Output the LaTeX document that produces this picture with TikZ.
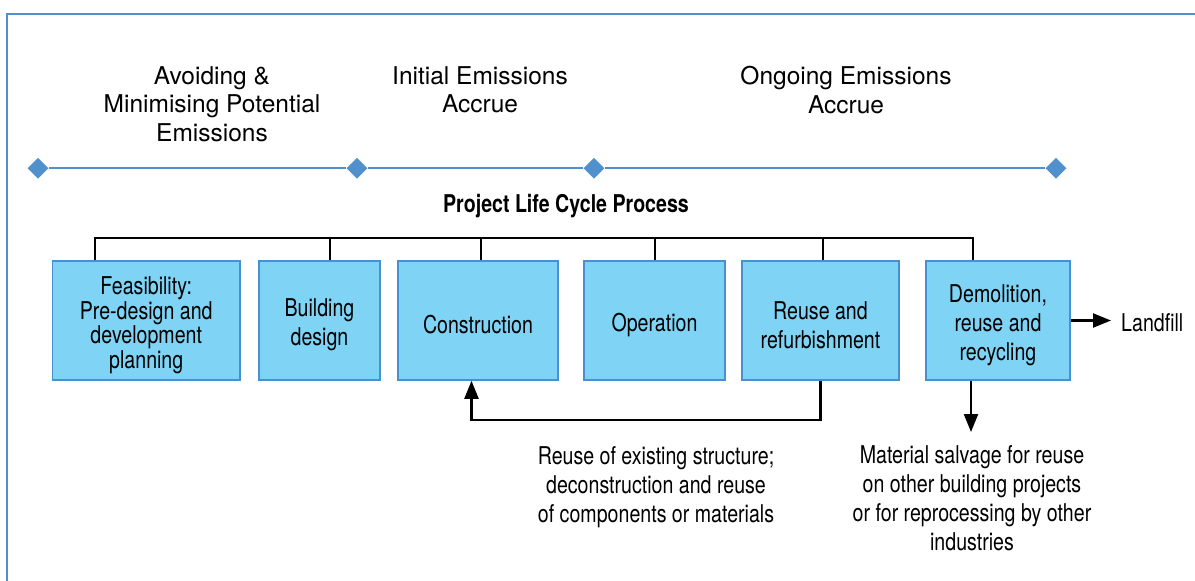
\documentclass[tikz,border=0pt]{standalone}
\usepackage{fontspec}
\setmainfont{TeX Gyre Heros}
\newfontfamily\narrowfont[FakeStretch=0.8]{TeX Gyre Heros}
\usetikzlibrary{shapes.geometric,arrows.meta}
\definecolor{lineblue}{RGB}{80,144,204}
\definecolor{boxblue}{RGB}{127,211,245}
\definecolor{edgeblue}{RGB}{74,144,208}
\tikzset{
  stage/.style={draw=edgeblue,line width=1.5pt,fill=boxblue,inner sep=0pt,minimum height=119pt},
  stagetext/.style={align=center,yshift=-4.5pt,font=\narrowfont\fontsize{24.5}{29}\selectfont},
  phase/.style={align=center,font=\fontsize{24.5}{28.5}\selectfont},
  note/.style={align=center,font=\narrowfont\fontsize{24.5}{29}\selectfont},
  tick/.style={diamond,fill=lineblue,inner sep=0pt,minimum size=21pt},
  bus/.style={line width=2.2pt},
  flow/.style={line width=2.2pt,-{Triangle[length=18pt,width=14pt]}}
}
\begin{document}
\begin{tikzpicture}[x=1pt,y=-1pt]
\useasboundingbox (0,0) rectangle (1195,581);
\draw[lineblue,line width=2pt] (7,581) |- (1195,13.5);

\node[phase] (avoid) at (212,104) {Avoiding \&\\Minimising Potential\\Emissions};
\node[phase] (initial) at (480,90) {Initial Emissions\\Accrue};
\node[phase] (ongoing) at (846,90) {Ongoing Emissions\\Accrue};

\node[tick] (t1) at (38,168.3) {};
\node[tick] (t2) at (357,168.3) {};
\node[tick] (t3) at (594,168.3) {};
\node[tick] (t4) at (1056,168.3) {};
\draw[lineblue,line width=2pt] (t1) -- (t2) -- (t3) -- (t4);

\node[font=\narrowfont\bfseries\fontsize{24.5}{29}\selectfont] (title) at (566,206) {Project Life Cycle Process};

\node[stage,minimum width=187.5pt,label={[stagetext,font=\narrowfont\fontsize{24.5}{24.5}\selectfont]center:{Feasibility:\\Pre-design and\\development\\planning}}] (feas) at (146.25,320.5) {};
\node[stage,minimum width=121pt,label={[stagetext]center:{Building\\design}}] (bdes) at (319.5,320.5) {};
\node[stage,minimum width=160pt,label={[stagetext]center:Construction}] (cons) at (478,320.5) {};
\node[stage,minimum width=141pt,label={[stagetext]center:Operation}] (oper) at (654.5,320.5) {};
\node[stage,minimum width=157pt,label={[stagetext]center:{Reuse and\\refurbishment}}] (reuse) at (820.5,320.5) {};
\node[stage,minimum width=144pt,label={[stagetext]center:{Demolition,\\reuse and\\recycling}}] (demo) at (998,320.5) {};

\coordinate (busL) at (95,238);
\coordinate (busR) at (973,238);
\draw[bus] (busL |- feas.north) -- (busL) -- (busR) -- (busR |- demo.north);
\foreach \x/\b in {330/bdes,481/cons,655/oper,823/reuse}
  \draw[bus] (\x,238) -- (\x,0 |- \b.north);

\coordinate (back) at (471.5,420);
\draw[flow] (reuse.south) |- (back) -- (back |- cons.south);

\coordinate (salv) at (971,432);
\draw[flow] (salv |- demo.south) -- (salv);

\node[note,anchor=west,inner sep=0pt] (landfill) at (1121,323) {Landfill};
\draw[flow,shorten >=10pt] (demo.east) -- (demo.east -| landfill.west);

\node[note] (reusenote) at (656,487) {Reuse of existing structure;\\deconstruction and reuse\\of components or materials};
\node[note] (salvnote) at (972,498.5) {Material salvage for reuse\\on other building projects\\or for reprocessing by other\\industries};
\end{tikzpicture}
\end{document}
